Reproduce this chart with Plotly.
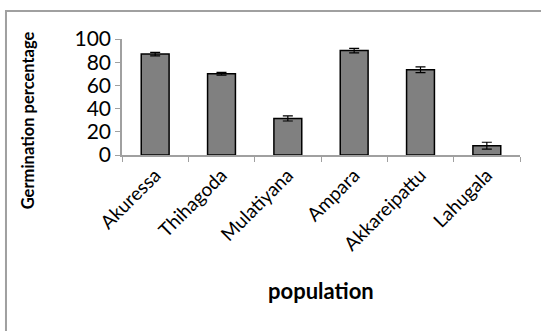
import plotly.graph_objects as go

categories = ["Akuressa", "Thihagoda", "Mulatiyana", "Ampara", "Akkareipattu", "Lahugala"]
germination = [87, 70, 31.5, 90, 73.5, 8]
errors = [1.5, 1.2, 2.2, 2.0, 2.5, 3.0]
y_ticks = [0, 20, 40, 60, 80, 100]

FONT = "Lato"

fig = go.Figure()
fig.add_trace(go.Bar(
    x=categories, y=germination,
    marker=dict(color="#808080", line=dict(color="#000000", width=1.5)),
    error_y=dict(type="data", array=errors, color="#000000", thickness=1.2, width=5),
    width=0.42,
))

fig.update_layout(
    width=541, height=331,
    margin=dict(l=122, r=21, t=39, b=176, autoexpand=False),
    paper_bgcolor="white", plot_bgcolor="white",
    showlegend=False,
    font=dict(family=FONT, color="black"),
    xaxis=dict(
        showline=True, linecolor="#a0a0a0", linewidth=1.5,
        ticks="outside", tickson="boundaries", ticklen=5, tickcolor="#a0a0a0",
        tickangle=-45, tickfont=dict(size=19, family=FONT),
        showgrid=False,
    ),
    yaxis=dict(
        range=[0, 100], tickvals=y_ticks,
        showline=True, linecolor="#a0a0a0", linewidth=1.5,
        ticks="outside", ticklen=5, tickcolor="#a0a0a0",
        tickfont=dict(size=21, family=FONT),
        showgrid=False, zeroline=False,
    ),
    annotations=[
        dict(text="<b>Germination percentage</b>", xref="paper", yref="paper",
             x=-0.236, y=0.30, textangle=-90, showarrow=False,
             xanchor="center", yanchor="middle",
             font=dict(size=16.5, family=FONT)),
        dict(text="<b>population</b>", xref="paper", yref="paper",
             x=0.5, y=-1.164, showarrow=False, xanchor="center", yanchor="middle",
             font=dict(size=22, family=FONT)),
    ],
    shapes=[
        dict(type="rect", xref="paper", yref="paper",
             x0=-0.2915, x1=1.2, y0=-1.6, y1=1.241,
             line=dict(color="#a0a0a0", width=2), fillcolor="rgba(0,0,0,0)", layer="below"),
    ],
)

fig.write_html("out.html", config={"displayModeBar": False},
               post_script="document.body.style.margin='0';")
